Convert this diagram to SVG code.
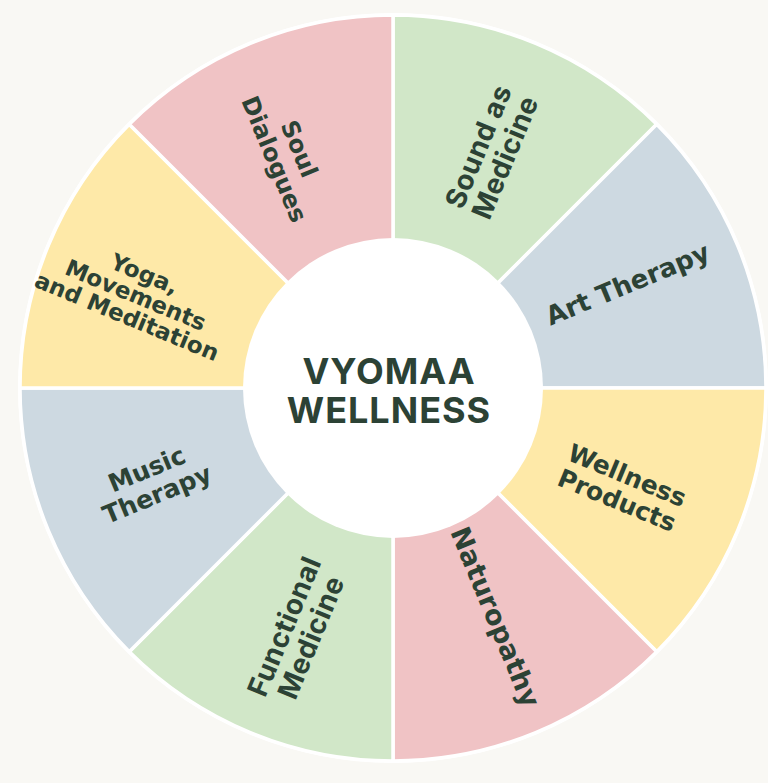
<svg xmlns="http://www.w3.org/2000/svg" width="768" height="783" viewBox="0 0 768 783">
<style>
.seg{stroke:#ffffff;stroke-width:3.5;stroke-linejoin:round}
.pink{fill:#f0c3c5}.green{fill:#d1e7c8}.blue{fill:#cdd9e1}.yellow{fill:#fee9a8}
.lbl{font-family:"DejaVu Sans",Verdana,sans-serif;font-weight:bold;fill:#2c4235;text-anchor:middle}
.geo{font-family:Inter,"Open Sans",sans-serif;font-weight:700;fill:#2c4235;text-anchor:middle}
</style>
<rect width="768" height="783" fill="#f9f8f4"/>
<circle cx="393" cy="388" r="375" fill="#ffffff"/>
<g id="sound-as-medicine">
<path class="seg green" d="M393,388 L393,15 A373,373 0 0 1 656.75,124.25 Z"/>
<g transform="translate(492,152) rotate(-67.5)"><text class="geo" font-size="28" letter-spacing="0.5"><tspan x="0" y="-5">Sound as</tspan><tspan x="0" y="24">Medicine</tspan></text></g>
</g>
<g id="art-therapy">
<path class="seg blue" d="M393,388 L656.75,124.25 A373,373 0 0 1 766,388 Z"/>
<g transform="translate(628,285) rotate(-22.5)"><text class="lbl" font-size="26" y="8">Art Therapy</text></g>
</g>
<g id="wellness-products">
<path class="seg yellow" d="M393,388 L766,388 A373,373 0 0 1 656.75,651.75 Z"/>
<g transform="translate(622,488) rotate(22.5)"><text class="lbl" font-size="25"><tspan x="0" y="-5">Wellness</tspan><tspan x="0" y="22">Products</tspan></text></g>
</g>
<g id="naturopathy">
<path class="seg pink" d="M393,388 L656.75,651.75 A373,373 0 0 1 393,761 Z"/>
<g transform="translate(495,617) rotate(67.5)"><text class="lbl" font-size="27" y="9">Naturopathy</text></g>
</g>
<g id="functional-medicine">
<path class="seg green" d="M393,388 L393,761 A373,373 0 0 1 129.25,651.75 Z"/>
<g transform="translate(298,632) rotate(-67.5)"><text class="geo" font-size="28" letter-spacing="0.5"><tspan x="0" y="-5">Functional</tspan><tspan x="0" y="24">Medicine</tspan></text></g>
</g>
<g id="music-therapy">
<path class="seg blue" d="M393,388 L129.25,651.75 A373,373 0 0 1 20,388 Z"/>
<g transform="translate(152,482) rotate(-22.5)"><text class="lbl" font-size="25"><tspan x="0" y="-5">Music</tspan><tspan x="0" y="22">Therapy</tspan></text></g>
</g>
<g id="yoga-movements-meditation">
<path class="seg yellow" d="M393,388 L20,388 A373,373 0 0 1 129.25,124.25 Z"/>
<g transform="translate(135,297) rotate(22.5)"><text class="lbl" font-size="23"><tspan x="0" y="-17">Yoga,</tspan><tspan x="0" y="6">Movements</tspan><tspan x="0" y="29">and Meditation</tspan></text></g>
</g>
<g id="soul-dialogues">
<path class="seg pink" d="M393,388 L129.25,124.25 A373,373 0 0 1 393,15 Z"/>
<g transform="translate(287,154) rotate(67.5)"><text class="lbl" font-size="24"><tspan x="0" y="-5">Soul</tspan><tspan x="0" y="22">Dialogues</tspan></text></g>
</g>
<g id="center">
<circle cx="393" cy="388" r="150" fill="#ffffff"/>
<text class="geo" font-size="36" letter-spacing="1"><tspan x="389" y="384">VYOMAA</tspan><tspan x="389" y="423">WELLNESS</tspan></text>
</g>
<g id="connectors"/>
</svg>
